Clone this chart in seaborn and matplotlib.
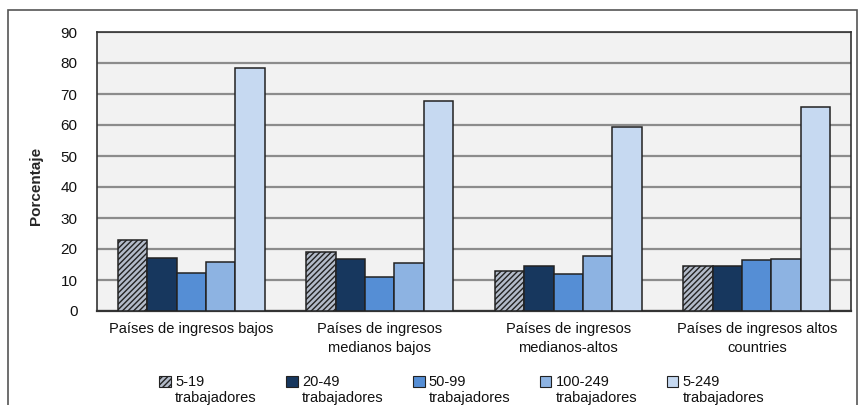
import matplotlib
matplotlib.use("Agg")
import matplotlib.pyplot as plt
from matplotlib.patches import Patch, Rectangle
from matplotlib.legend_handler import HandlerPatch
import seaborn as sns
import pandas as pd

# Income groups (x axis) and firm-size classes (bars)
categories = [
    "Países de ingresos bajos",
    "Países de ingresos\nmedianos bajos",
    "Países de ingresos\nmedianos-altos",
    "Países de ingresos altos\ncountries",
]
sizes = ["5-19", "20-49", "50-99", "100-249", "5-249"]
legend_labels = [f"{s}\ntrabajadores" for s in sizes]

v_5_19 = [22.9, 18.9, 12.8, 14.6]
v_20_49 = [17.2, 16.7, 14.4, 14.4]
v_50_99 = [12.3, 11.1, 11.8, 16.5]
v_100_249 = [15.7, 15.4, 17.8, 16.8]
v_5_249 = [78.4, 67.7, 59.3, 65.8]

yticks = [0, 10, 20, 30, 40, 50, 60, 70, 80, 90]

colors = ["#b3bbc9", "#17375e", "#558ed5", "#8db3e2", "#c6d9f1"]

rows = []
for size, vals in zip(sizes, [v_5_19, v_20_49, v_50_99, v_100_249, v_5_249]):
    for cat, v in zip(categories, vals):
        rows.append({"grupo": cat, "tamano": size, "valor": v})
df = pd.DataFrame(rows)

sns.set_theme(style="white")
plt.rcParams["font.family"] = ["Liberation Sans", "DejaVu Sans"]
plt.rcParams["hatch.color"] = "#5c6371"
plt.rcParams["hatch.linewidth"] = 1.0

fig = plt.figure(figsize=(8.63, 4.05), dpi=100)
fig.patch.set_facecolor("white")
ax = fig.add_axes([97 / 863, 1 - 311 / 405, (851 - 97) / 863, (311 - 32) / 405])
ax.set_facecolor("#f2f2f2")

sns.barplot(
    data=df, x="grupo", y="valor", hue="tamano",
    hue_order=sizes, order=categories, palette=colors,
    width=0.78, gap=0, edgecolor="#222222", linewidth=1.1,
    saturation=1, legend=False, ax=ax, zorder=3,
)

# hatch the smallest firm-size class
for bar in ax.containers[0]:
    bar.set_hatch("//////")

ax.set_ylim(0, 90)
ax.set_yticks(yticks)
ax.set_yticklabels([str(t) for t in yticks], fontsize=11, color="#111111")
ax.yaxis.grid(True, color="#8c8c8c", linewidth=1.6, zorder=0)
ax.set_axisbelow(True)
ax.set_xlabel("")
ax.set_ylabel("Porcentaje", fontsize=11, fontweight="bold",
              family=["Liberation Sans Narrow", "Liberation Sans", "DejaVu Sans"],
              labelpad=14)
ax.yaxis.set_label_coords(-0.072, 0.45)
ax.tick_params(axis="x", labelsize=10.5, colors="#111111", length=0, pad=8)
ax.tick_params(axis="y", length=0, pad=14)
for lab in ax.get_xticklabels():
    lab.set_linespacing(1.4)

for side, sp in ax.spines.items():
    sp.set_visible(True)
    sp.set_color("#333333")
    sp.set_linewidth(1.2)
ax.spines["bottom"].set_linewidth(1.6)


def top_square(legend, orig_handle, xdescent, ydescent, width, height, fontsize):
    # keep the swatch level with the first line of each two-line label
    return Rectangle((-xdescent, -ydescent + 0.62 * fontsize), width, height)


handles = []
for i, c in enumerate(colors):
    h = Patch(facecolor=c, edgecolor="#222222", linewidth=0.8,
              hatch="//////" if i == 0 else None)
    handles.append(h)
leg = fig.legend(handles, legend_labels, loc="upper center",
                 bbox_to_anchor=(0.535, 1 - 362 / 405), ncol=5, frameon=False,
                 fontsize=10.5, handlelength=0.8, handleheight=0.8,
                 handletextpad=0.3, columnspacing=2.0,
                 handler_map={Patch: HandlerPatch(patch_func=top_square)})
for t in leg.get_texts():
    t.set_linespacing(1.2)
    t.set_color("#111111")

# outer frame around the chart
fig.patches.append(Rectangle((8 / 863, -0.05), (857 - 8) / 863, 1.05 - 10 / 405,
                             transform=fig.transFigure, fill=False,
                             edgecolor="#555555", linewidth=1.2))

fig.savefig("out.png", dpi=100)
